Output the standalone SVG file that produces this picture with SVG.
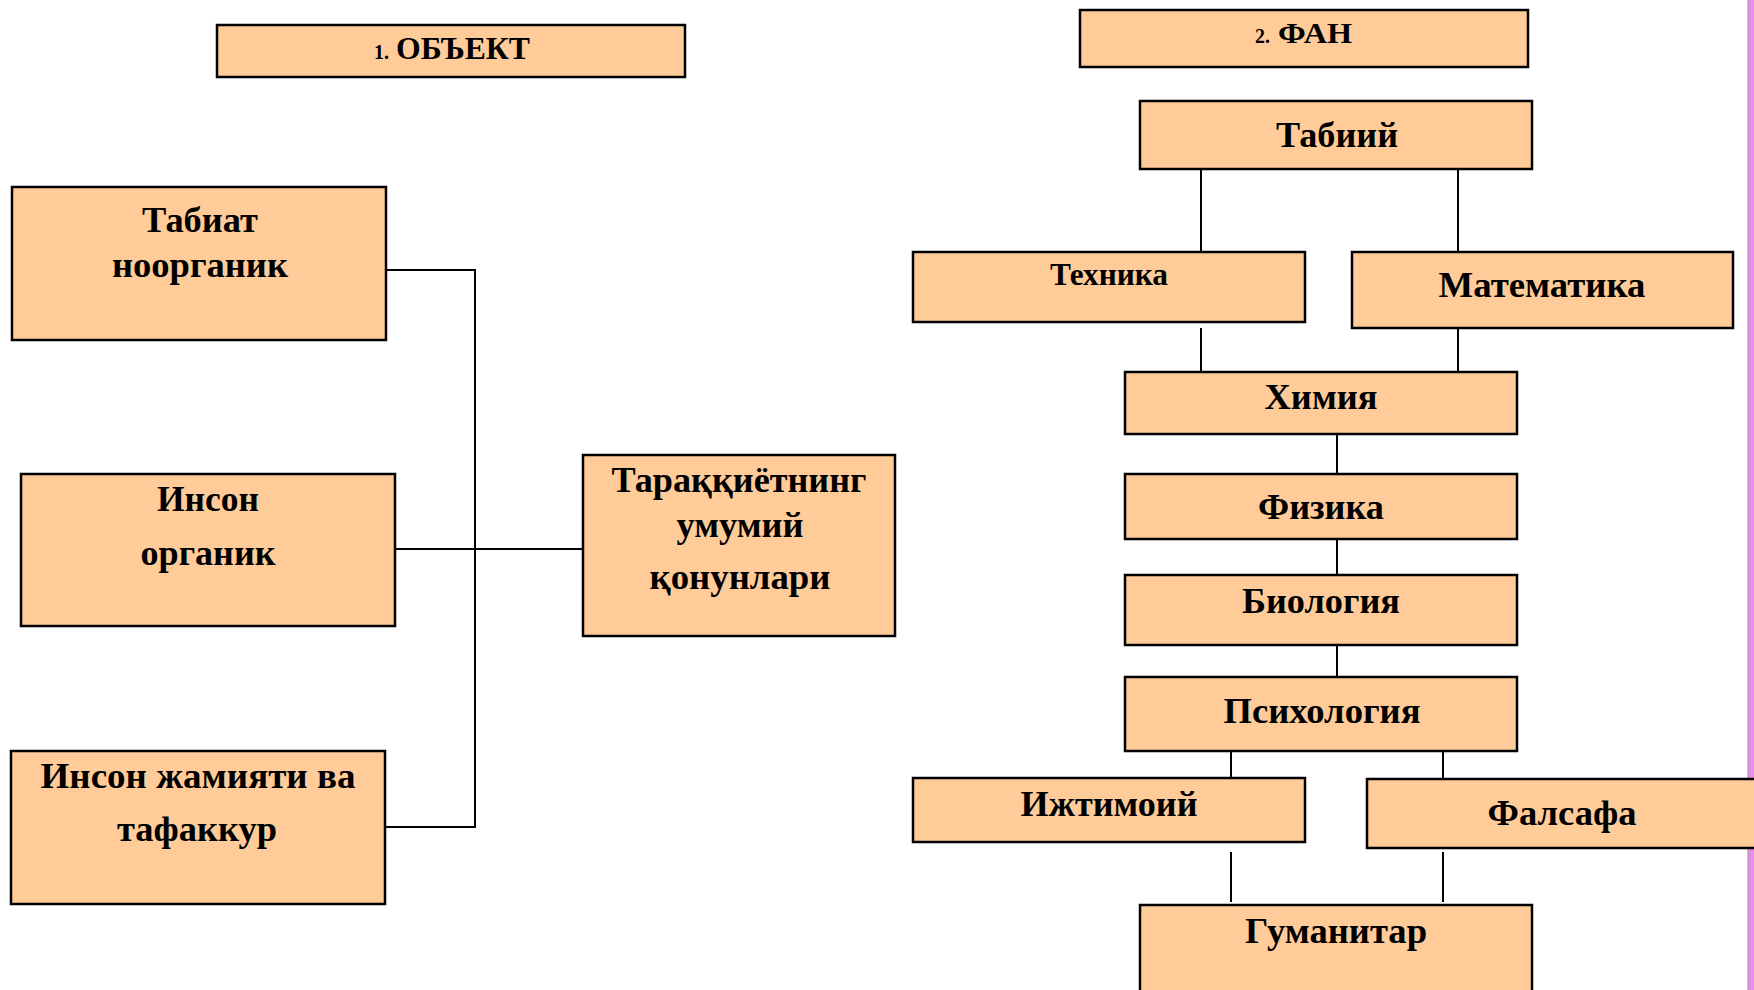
<svg xmlns="http://www.w3.org/2000/svg" width="1754" height="990" viewBox="0 0 1754 990">
<style>
.box{fill:#FFCC99;stroke:#000;stroke-width:2.5}
.t{font-family:"Liberation Serif","Times New Roman",serif;font-weight:bold;fill:#000;text-anchor:middle;font-size:36px}
.s{font-size:32px}
.h{font-family:"Liberation Serif","Times New Roman",serif;font-weight:bold;fill:#000}
.c{stroke:#000;stroke-width:2;fill:none}
</style>
<rect width="1754" height="990" fill="#fff"/>
<rect x="1748" y="0" width="6" height="990" fill="#EA8DEA"/>
<line x1="1748" y1="0" x2="1748" y2="990" stroke="#A88AA8" stroke-width="1"/>

<g id="connectors">
<path class="c" d="M386,270H476M475,270V828M390,549H584M385,827H476"/>
<path class="c" d="M1201,169V252M1458,169V252M1201,328V378M1458,325V375M1337,434V474M1337,539V575M1337,645V680M1231,751V781M1443,751V779M1231,852V902M1443,852V902"/>
</g>

<g id="obekt">
<rect class="box" x="217" y="25" width="468" height="52"/>
<text class="h" x="374" y="59"><tspan font-size="20">1.</tspan><tspan x="396" font-size="31" textLength="134" lengthAdjust="spacingAndGlyphs">ОБЪЕКТ</tspan></text>
</g>
<g id="fan">
<rect class="box" x="1080" y="10" width="448" height="57"/>
<text class="h" x="1255" y="43"><tspan font-size="20">2.</tspan><tspan x="1278" font-size="29" textLength="74" lengthAdjust="spacingAndGlyphs">ФАН</tspan></text>
</g>

<g id="tabiat">
<rect class="box" x="12" y="187" width="374" height="153"/>
<text class="t" x="200" y="232" textLength="116" lengthAdjust="spacingAndGlyphs">Табиат</text>
<text class="t" x="200" y="277" textLength="176" lengthAdjust="spacingAndGlyphs">ноорганик</text>
</g>
<g id="inson">
<rect class="box" x="21" y="474" width="374" height="152"/>
<text class="t" x="208" y="511" textLength="102" lengthAdjust="spacingAndGlyphs">Инсон</text>
<text class="t" x="208" y="565" textLength="135" lengthAdjust="spacingAndGlyphs">органик</text>
</g>
<g id="jamiyat">
<rect class="box" x="11" y="751" width="374" height="153"/>
<text class="t" x="198" y="788" textLength="315" lengthAdjust="spacingAndGlyphs">Инсон жамияти ва</text>
<text class="t" x="197" y="841" textLength="160" lengthAdjust="spacingAndGlyphs">тафаккур</text>
</g>
<g id="taraqqiyot">
<rect class="box" x="583" y="455" width="312" height="181"/>
<text class="t" x="739" y="492" textLength="255" lengthAdjust="spacingAndGlyphs">Тараққиётнинг</text>
<text class="t" x="740" y="537" textLength="127" lengthAdjust="spacingAndGlyphs">умумий</text>
<text class="t" x="740" y="589" textLength="181" lengthAdjust="spacingAndGlyphs">қонунлари</text>
</g>

<g id="tabiiy">
<rect class="box" x="1140" y="101" width="392" height="68"/>
<text class="t" x="1337" y="147" textLength="122" lengthAdjust="spacingAndGlyphs">Табиий</text>
</g>
<g id="texnika">
<rect class="box" x="913" y="252" width="392" height="70"/>
<text class="t s" x="1109" y="285" textLength="118" lengthAdjust="spacingAndGlyphs">Техника</text>
</g>
<g id="matematika">
<rect class="box" x="1352" y="252" width="381" height="76"/>
<text class="t" x="1542" y="297" textLength="207" lengthAdjust="spacingAndGlyphs">Математика</text>
</g>
<g id="ximiya">
<rect class="box" x="1125" y="372" width="392" height="62"/>
<text class="t" x="1321" y="409" textLength="113" lengthAdjust="spacingAndGlyphs">Химия</text>
</g>
<g id="fizika">
<rect class="box" x="1125" y="474" width="392" height="65"/>
<text class="t" x="1321" y="519" textLength="126" lengthAdjust="spacingAndGlyphs">Физика</text>
</g>
<g id="biologiya">
<rect class="box" x="1125" y="575" width="392" height="70"/>
<text class="t" x="1321" y="613" textLength="158" lengthAdjust="spacingAndGlyphs">Биология</text>
</g>
<g id="psixologiya">
<rect class="box" x="1125" y="677" width="392" height="74"/>
<text class="t" x="1322" y="723" textLength="197" lengthAdjust="spacingAndGlyphs">Психология</text>
</g>
<g id="ijtimoiy">
<rect class="box" x="913" y="778" width="392" height="64"/>
<text class="t" x="1109" y="816" textLength="177" lengthAdjust="spacingAndGlyphs">Ижтимоий</text>
</g>
<g id="falsafa">
<rect class="box" x="1367" y="779" width="390" height="69"/>
<text class="t" x="1562" y="825" textLength="149" lengthAdjust="spacingAndGlyphs">Фалсафа</text>
</g>
<g id="gumanitar">
<rect class="box" x="1140" y="905" width="392" height="95"/>
<text class="t" x="1336" y="943" textLength="182" lengthAdjust="spacingAndGlyphs">Гуманитар</text>
</g>
</svg>
